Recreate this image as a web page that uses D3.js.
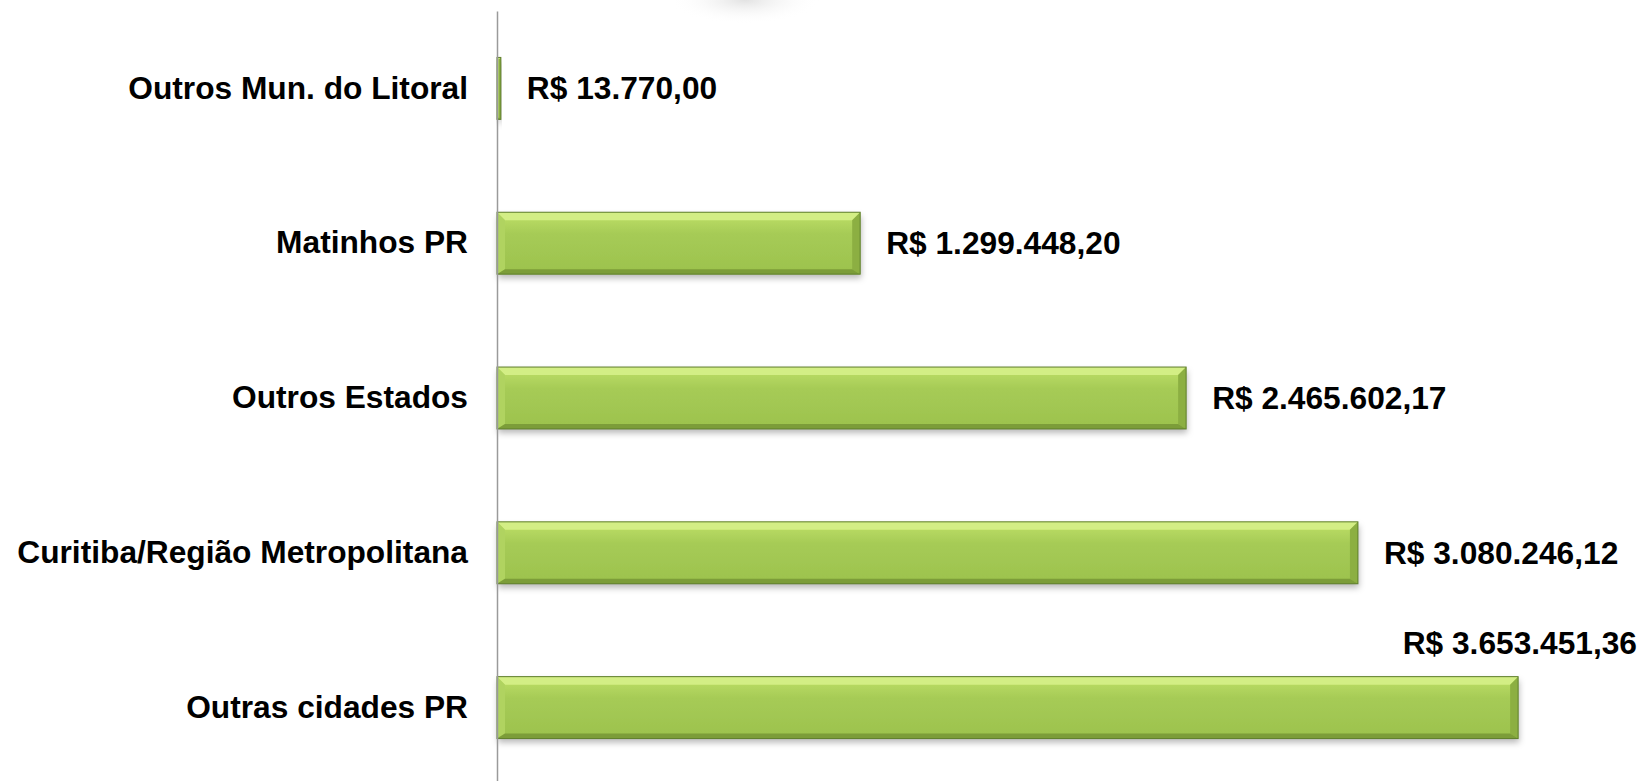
<!DOCTYPE html>
<html>
<head>
<meta charset="utf-8">
<script src="https://cdn.jsdelivr.net/npm/d3@7"></script>
<style>
  body { margin: 0; background: #fff; }
  svg { display: block; font-family: "Liberation Sans", Arial, sans-serif; }
</style>
</head>
<body>
<svg id="chart"></svg>
<script>
const W = 1643;
const H = 781;

const categories = ["Outros Mun. do Litoral", "Matinhos PR", "Outros Estados", "Curitiba/Região Metropolitana", "Outras cidades PR"];
const values = [13770.00, 1299448.20, 2465602.17, 3080246.12, 3653451.36];
const xDomain = [0, 4000000];

const axisX = 497;
const bevel = 8;

const ptBR = d3.formatLocale({ decimal: ",", thousands: ".", grouping: [3], currency: ["R$ ", ""] });
const money = ptBR.format("$,.2f");

const svg = d3.select("#chart").attr("width", W).attr("height", H);
const defs = svg.append("defs");

// soft grey blob cut off at the top edge
const blob = defs.append("radialGradient").attr("id", "blob");
blob.append("stop").attr("offset", "0%").attr("stop-color", "#e2e2e2");
blob.append("stop").attr("offset", "100%").attr("stop-color", "#ffffff").attr("stop-opacity", 0);
svg.append("ellipse").attr("cx", 745).attr("cy", 0).attr("rx", 75).attr("ry", 24).attr("fill", "url(#blob)");

const body = defs.append("linearGradient").attr("id", "body").attr("x1", 0).attr("y1", 0).attr("x2", 0).attr("y2", 1);
body.append("stop").attr("offset", "0%").attr("stop-color", "#bfe068");
body.append("stop").attr("offset", "35%").attr("stop-color", "#a6cb56");
body.append("stop").attr("offset", "100%").attr("stop-color", "#9cc24d");

const shadow = defs.append("filter").attr("id", "shadow").attr("x", "-10%").attr("y", "-20%").attr("width", "120%").attr("height", "160%");
shadow.append("feDropShadow").attr("dx", 1).attr("dy", 4).attr("stdDeviation", 3).attr("flood-color", "#000").attr("flood-opacity", 0.28);

const x = d3.scaleLinear().domain(xDomain).range([axisX, 1615]);
const y = d3.scaleBand().domain(categories).range([11, 785]).paddingInner(0.6).paddingOuter(0.3);

const rows = categories.map((c, i) => ({ cat: c, val: values[i] }));

const bars = svg.selectAll("g.bar")
  .data(rows)
  .enter()
  .append("g")
  .attr("class", "bar");

bars.each(function (d) {
  const g = d3.select(this);
  const x0 = x(0), x1 = x(d.val), y0 = y(d.cat), y1 = y0 + y.bandwidth();
  const b = Math.min(bevel, (x1 - x0) / 2);
  const bb = Math.min(5, (x1 - x0) / 2);
  g.append("rect")
    .attr("x", x0).attr("y", y0)
    .attr("width", x1 - x0).attr("height", y1 - y0)
    .attr("fill", "url(#body)")
    .attr("filter", "url(#shadow)");
  const pts = a => a.map(p => p.join(",")).join(" ");
  // top bevel
  g.append("polygon").attr("points", pts([[x0, y0], [x1, y0], [x1 - b, y0 + b], [x0 + b, y0 + b]]))
    .attr("fill", "#d3ee85");
  // left bevel
  g.append("polygon").attr("points", pts([[x0, y0], [x0 + b, y0 + b], [x0 + b, y1 - bb], [x0, y1]]))
    .attr("fill", "#b0d360");
  // right bevel
  g.append("polygon").attr("points", pts([[x1, y0], [x1, y1], [x1 - b, y1 - bb], [x1 - b, y0 + b]]))
    .attr("fill", "#8caf42");
  // bottom bevel
  g.append("polygon").attr("points", pts([[x0, y1], [x1, y1], [x1 - b, y1 - bb], [x0 + b, y1 - bb]]))
    .attr("fill", "#7c9d39");
  g.append("rect")
    .attr("x", x0).attr("y", y0)
    .attr("width", x1 - x0).attr("height", y1 - y0)
    .attr("fill", "none")
    .attr("stroke", "#5f7e2d")
    .attr("stroke-width", 1);
});

// value labels
svg.selectAll("text.val")
  .data(rows)
  .enter()
  .append("text")
  .attr("class", "val")
  .attr("x", d => x(d.val) + 26)
  .attr("y", d => y(d.cat) + y.bandwidth() / 2)
  .attr("dy", "0.35em")
  .attr("font-size", 31.7)
  .attr("font-weight", "bold")
  .attr("fill", "#000")
  .text(d => money(d.val))
  .each(function (d) {
    const t = d3.select(this);
    const w = this.getComputedTextLength();
    if (x(d.val) + 26 + w > W - 4) {
      // no room on the right: put it above the bar
      t.attr("x", W - 6).attr("text-anchor", "end")
        .attr("y", y(d.cat) - 34);
    }
  });

// category axis
const yAxis = d3.axisLeft(y).tickSize(0).tickSizeOuter(0).tickPadding(29);
const ax = svg.append("g")
  .attr("transform", `translate(${axisX},0)`)
  .call(yAxis);
ax.select(".domain").attr("stroke", "#9a9a9a").attr("stroke-width", 1.5);
ax.selectAll("text")
  .attr("font-size", 31.7)
  .attr("font-weight", "bold")
  .attr("font-family", "'Liberation Sans', Arial, sans-serif")
  .attr("fill", "#000");
ax.raise();
</script>
</body>
</html>
